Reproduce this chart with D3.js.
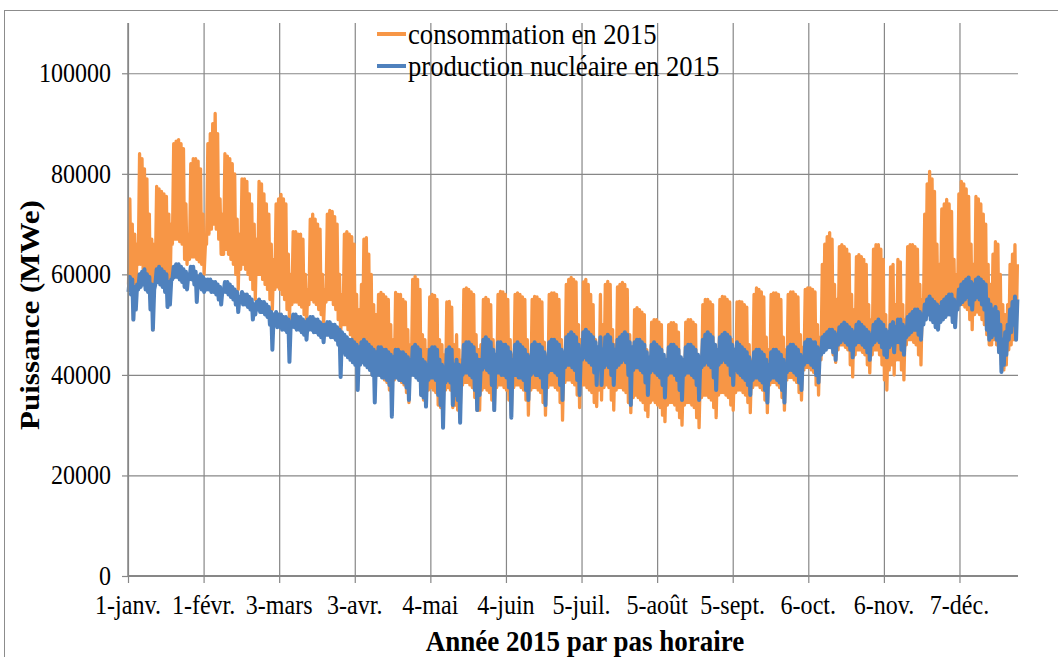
<!DOCTYPE html>
<html>
<head>
<meta charset="utf-8">
<script src="https://cdn.jsdelivr.net/npm/d3@7"></script>
<style>
html,body{margin:0;padding:0;background:#fff;}
svg{display:block;}
</style>
</head>
<body>
<svg id="chart" width="1058" height="657"></svg>
<script>
// ---------- DATA (MWe) ----------
const xTickLabels = ["1-janv.","1-févr.","3-mars","3-avr.","4-mai","4-juin","5-juil.","5-août","5-sept.","6-oct.","6-nov.","7-déc."];
const yTickValues = [0,20000,40000,60000,80000,100000];
const seriesNames = ["consommation en 2015","production nucléaire en 2015"];

// daily maximum / minimum of consumption (one value per day, 1 Jan -> 31 Dec)
const consMax = [
75000,70000,68000,66000,
84000,83000,81000,79000,72000,67000,66000,
77500,77000,76500,76000,75500,72000,70000,
86000,86500,86800,86000,85000,74000,68000,
82000,83000,83000,82500,81000,72000,66000,
86000,88000,90000,92000,88000,75000,72000,
84000,83500,83000,82000,80000,71000,68000,
79000,79000,78500,76000,74000,70000,67000,
78500,78000,76000,74000,72000,66000,63000,
74000,75000,75900,75000,74000,64000,60000,
68500,68500,68000,68000,67000,60000,57000,
71000,72000,71000,70000,69000,60000,57000,
72000,72700,72500,71500,70000,60000,56000,
68000,68500,68000,67500,66000,56000,53000,
58000,67000,67300,64000,60000,54000,52000,
56000,56400,56000,55500,55000,50000,47000,
56400,56000,56000,55000,54500,49000,46000,
59000,59600,59000,57000,48000,47000,45000,
55500,56000,55800,55000,47000,46000,44000,
54500,54600,53500,46000,48000,45000,43000,
57000,57300,57000,56500,56000,48000,45000,
46000,55000,55400,55000,54000,47000,44000,
56000,56600,56500,56000,55000,47000,44000,
56000,56300,56000,55500,55000,47000,44000,
55000,55600,55500,55000,54500,46500,44000,
56000,56300,56300,56000,55000,47000,44000,
58000,59000,59400,59000,58500,50000,47000,
58500,59000,58000,56000,54000,47000,45000,
56000,50000,58000,58600,58000,49000,46000,
57500,58000,58400,58000,57000,48000,45000,
53000,53400,53000,52500,52000,45000,42000,
50500,51000,51000,50500,50000,43500,41000,
50000,50400,50400,50000,48500,42000,40500,
50500,51000,51000,50500,50000,43000,41000,
54000,55000,55000,54500,54000,46000,43000,
55000,55600,55500,55000,54500,47000,44000,
54500,54600,54500,54000,53500,46000,43000,
56000,57300,57000,56500,55500,47500,45000,
56000,56300,56300,56000,55000,47500,45000,
56000,56500,56500,56000,55500,48000,45500,
57000,57300,57300,57000,56500,50000,47500,
62000,66000,67500,68300,67000,58000,55000,
65500,65900,65500,65000,64000,56000,53000,
63500,63900,63500,63000,62000,54000,51000,
65000,65900,65900,65000,63000,52000,48000,
61500,62000,54000,63000,62500,54000,51000,
65500,65900,65900,65500,65000,58000,55000,
72000,78000,80500,79000,76500,66000,62000,
73000,74000,74900,74000,72500,63000,60000,
76000,78500,78000,77000,75500,66000,62000,
75500,75000,74000,72000,70000,62000,58000,
64000,66500,66000,60000,54000,52000,54000,
62000,64000,65900,62000
];
const consMin = [
58000,59000,51000,55000,
62000,62000,61000,60000,58000,55000,49000,
60000,61000,61000,60500,60000,58000,56000,
66000,67000,67000,66500,66000,63000,62000,
63000,63500,63500,63000,62500,62000,60000,
66000,68000,69000,70000,69000,67000,64000,
64000,65000,64000,63000,62000,60000,57000,
61000,62000,61000,60000,59000,57000,55000,
60000,60000,59000,58000,57000,55000,53000,
57000,57500,57000,56000,55000,53000,51000,
54000,54500,54500,54000,53500,52000,50000,
54000,55000,54500,54000,53000,52000,50000,
54500,55000,55000,54000,53000,51000,48000,
50000,50000,49000,48000,47000,45000,42000,
43000,46000,45000,44000,42000,40000,38000,
40000,40000,39500,39000,38500,37000,35000,
39000,39500,39000,38500,38000,36500,34500,
40000,40500,40000,39000,36000,35000,34000,
37000,37500,37000,36500,34000,33500,32000,
37000,37500,37000,33500,34000,33000,32000,
38000,38500,38500,38000,37500,35500,33000,
33000,37000,37500,37000,36500,35000,33000,
37500,38000,38000,37500,37000,35000,32000,
37500,38000,38000,37500,37000,35000,32000,
37000,37500,37500,37000,36500,34500,32000,
37500,38000,38000,37500,37000,34500,31000,
38500,39000,39000,38500,38000,36000,33500,
38000,38000,37500,37000,36500,34500,33700,
37000,35000,37500,38000,37500,35000,33000,
37000,37500,37500,37000,36500,34500,32500,
35500,36000,35500,35000,34500,33000,31700,
34500,35000,34500,34000,33500,32000,30700,
34000,34500,34500,34000,33000,31500,30000,
34000,34500,34500,34000,33500,31500,29500,
35500,36000,36000,35500,35000,33500,31500,
36000,36500,36500,36000,35500,34000,33000,
36500,37000,37000,36500,36000,34500,32500,
37500,38000,38000,37500,37000,35000,32500,
38000,38500,38500,38000,37500,35500,33000,
39000,39500,39500,39000,38500,36500,35000,
41000,41500,41500,41000,40500,38000,36000,
43000,45000,46000,46500,46000,44000,42500,
45000,46000,46000,45500,45000,42000,39600,
44000,45000,45000,44500,44000,42000,40400,
44000,45000,45000,44000,42000,39000,37000,
41000,42000,40000,43000,43000,41000,39000,
46000,47000,47000,46500,46000,44000,42000,
52000,54000,55600,55000,54000,52000,50000,
53000,54000,54500,54000,53500,52000,50000,
53000,54000,54000,53500,53000,51000,49000,
52000,52500,52000,51000,50000,48000,46000,
46000,47000,46000,44500,42000,41000,42000,
45000,46000,47000,47000
];
// daily maximum / minimum of nuclear production
const prodMax = [
59500,59000,57500,58000,
60000,60500,61000,60000,59500,58000,57000,
61000,61500,61000,60500,60000,58500,59000,
61500,62000,62000,61500,61000,60500,60000,
61500,61500,60500,59500,60000,59500,59000,
59000,59000,58500,58500,58000,57500,57000,
58500,58500,58000,57500,57000,56500,55500,
56500,56000,56000,55500,55000,54000,54500,
55000,54500,54500,54000,53500,52500,52000,
52500,52000,52000,51500,51500,51000,50500,
52000,52000,51500,51500,51000,50500,51000,
51500,51500,51000,51000,50500,50000,50000,
50500,50500,50000,50000,49500,49000,48500,
48000,47500,47000,47000,46500,46000,45500,
46500,47000,46500,46000,45500,45000,44500,
45500,45500,45000,45000,44500,44000,43500,
45000,45000,44500,44500,44000,43500,43000,
45500,46000,45500,45000,43000,42500,42000,
45000,45500,45500,45000,43000,42000,41500,
45000,45500,45000,42000,43000,42000,41500,
46000,46500,46500,46000,45500,44000,43000,
43000,47000,47500,47000,46500,45000,44000,
46500,46500,46000,46000,45500,44500,43000,
46000,46500,46000,45500,45000,44000,43500,
46000,46500,46000,46000,45500,44500,43500,
46500,47000,47000,46500,46000,45000,44500,
47500,48000,48500,48000,47500,46000,45000,
48500,49000,48500,48000,47500,46500,45500,
47500,45000,47500,48000,47500,46000,45000,
47000,47500,48000,48500,48000,46500,45500,
46500,47000,47000,46500,46000,44500,43500,
46000,46500,46000,45500,45000,44000,43000,
45500,46000,46000,45500,45000,43500,43000,
45500,46000,46000,45500,45000,44000,43500,
47000,48000,48500,48000,47500,46000,45000,
47500,48000,48400,48000,47500,46000,45000,
46500,46000,45500,45000,44500,43500,42500,
44500,45000,45000,44500,44000,43000,42000,
44500,45000,45000,44500,44000,43000,42000,
45500,46000,46000,45500,45000,44000,43500,
46500,47000,47000,46500,46500,45500,45000,
47500,48000,48500,49000,49000,48500,48000,
49500,50000,50400,50000,49500,49000,48500,
50000,50500,50000,49500,49000,48500,48000,
50000,50500,51000,50500,50000,49000,48500,
50000,50500,49500,51000,51000,50000,49500,
51500,52000,52500,53000,53000,52500,52000,
54000,55000,55600,55000,54500,54000,53500,
54500,55000,55500,56000,56000,55000,54500,
57000,58000,58500,59000,59400,58500,58000,
59000,59400,59000,58500,58000,55000,54000,
53000,53500,52500,50000,47000,48500,50000,
53000,54500,55600,55000
];
const prodMin = [
56500,56000,51000,53000,
57000,57500,58000,57000,56500,53000,49000,
58000,58500,58000,57500,56500,53500,54000,
59000,59500,59500,59000,58500,57500,57000,
59000,59000,58000,54500,57500,57000,56500,
57000,57000,56500,56500,56000,55000,54000,
56500,56500,56000,55500,55000,54000,52500,
54500,54000,54000,53500,53000,51000,52000,
53000,52500,52500,52000,51500,50000,45000,
50000,49500,49500,49000,49000,48500,42600,
49500,49500,49000,49000,48500,48000,47000,
49000,49000,48500,48500,48000,47500,46500,
48000,48000,47500,47500,47000,46000,39600,
44500,44000,43500,43000,42500,42000,37000,
42000,42500,42000,41500,41000,40000,34500,
40000,40000,39500,39500,39000,38000,31700,
39500,39500,39000,39000,38500,37500,35000,
40000,40000,39500,39000,36000,35500,33700,
39000,39500,39500,39000,36000,34000,29500,
38500,39000,38500,34000,36000,35000,30500,
40000,40500,40500,40000,39500,37000,33000,
36000,41000,41500,41000,40500,38000,33000,
40500,40500,40000,40000,39500,37500,31500,
40000,40000,39500,39500,39000,37000,35000,
40000,40500,40000,40000,39500,37500,34000,
40500,41000,41000,40500,40000,38000,35000,
41500,42000,42000,41500,41000,39000,36000,
43000,43500,43000,42500,42000,40500,38000,
41500,38000,41500,42000,41500,40000,38000,
41500,42000,42500,43000,42500,40000,34000,
41000,41500,41500,41000,40500,38500,36000,
40500,41000,40500,40000,39500,38000,35500,
40000,40500,40500,40000,39000,37000,35000,
40000,40500,40500,40000,39500,38000,35000,
41500,42000,42500,42000,41500,39500,37000,
42000,42500,43000,42500,42000,40000,38000,
41000,40500,40000,39500,39000,38000,36000,
39000,39500,39500,39000,38500,37000,34500,
39000,39500,39500,39000,38500,37000,34500,
40500,41000,41000,40500,40000,38500,37000,
42000,42500,42500,42000,41500,40000,38500,
44000,44500,45000,45500,45500,44500,43000,
46000,46500,47000,46500,46000,45000,43500,
46000,46500,46500,46000,45500,44500,43000,
46000,46500,47000,46500,45500,44000,43500,
45500,46000,44500,46500,46500,45000,44000,
47500,48000,48500,49000,49000,48000,47000,
50000,51000,52000,51000,50500,49500,49000,
50500,51000,51500,52000,52000,50500,49500,
53000,54000,54500,55000,55500,54000,53000,
55000,55500,55000,54000,53000,49000,47000,
47500,48000,47000,44500,40600,42000,44000,
47000,48500,50000,47000
];

// ---------- LAYOUT ----------
const W = 1058, H = 657;
const plot = {left:128, right:1018, top:23, bottom:576};
const colors = {cons:"#F79646", prod:"#4F81BD", grid:"#878787", text:"#000"};
const HOURS = 8760, TICK_STEP = 744;
const serif = "'Liberation Serif','Times New Roman',Times,serif";

const svg = d3.select("#chart");
svg.append("rect").attr("width",W).attr("height",H).attr("fill","#fff");
// outer chart frame
svg.append("rect").attr("x",4.5).attr("y",10.5).attr("width",1200).attr("height",800)
  .attr("fill","none").attr("stroke","#8c8c8c").attr("stroke-width",1);

const x = d3.scaleLinear().domain([0,HOURS]).range([plot.left,plot.right]);
const y = d3.scaleLinear().domain([0,110000]).range([plot.bottom,plot.top]);
const xTickValues = xTickLabels.map((_,i)=>i*TICK_STEP);

// horizontal gridlines
const gy = svg.append("g")
  .attr("transform",`translate(${plot.left},0)`)
  .call(d3.axisLeft(y).tickValues(yTickValues.filter(v=>v>0))
     .tickSize(-(plot.right-plot.left)).tickFormat(""));
gy.select(".domain").remove();
gy.selectAll("line").attr("stroke",colors.grid).attr("stroke-width",1.2);

// vertical gridlines
const gx = svg.append("g")
  .attr("transform",`translate(0,${plot.bottom})`)
  .call(d3.axisBottom(x).tickValues(xTickValues)
     .tickSize(-(plot.bottom-plot.top)).tickFormat(""));
gx.select(".domain").remove();
gx.selectAll("line").attr("stroke",colors.grid).attr("stroke-width",1.2);

// series: daily minimum (early morning) then daily maximum (evening)
function buildSeries(mins, maxs){
  const pts = [];
  for(let d=0; d<mins.length; d++){
    pts.push([d*24+5, mins[d]]);
    pts.push([d*24+18, maxs[d]]);
  }
  return pts;
}
const line = d3.line().x(d=>x(d[0])).y(d=>y(d[1]));
svg.append("path").datum(buildSeries(consMin,consMax))
  .attr("d",line).attr("fill","none").attr("stroke",colors.cons)
  .attr("stroke-width",3.3).attr("stroke-linejoin","round");
svg.append("path").datum(buildSeries(prodMin,prodMax))
  .attr("d",line).attr("fill","none").attr("stroke",colors.prod)
  .attr("stroke-width",4).attr("stroke-linejoin","round");

// axes
const yAxis = svg.append("g").attr("transform",`translate(${plot.left},0)`)
  .call(d3.axisLeft(y).tickValues(yTickValues).tickSize(6).tickFormat(""));
yAxis.select(".domain").attr("stroke",colors.grid).attr("stroke-width",1.5)
  .attr("d",`M0,${plot.top}V${plot.bottom}`);
yAxis.selectAll("line").attr("stroke",colors.grid).attr("stroke-width",1.2);

const xAxis = svg.append("g").attr("transform",`translate(0,${plot.bottom})`)
  .call(d3.axisBottom(x).tickValues(xTickValues).tickSize(7).tickFormat(""));
xAxis.select(".domain").attr("stroke",colors.grid).attr("stroke-width",2)
  .attr("d",`M${plot.left},0H${plot.right}`);
xAxis.selectAll("line").attr("stroke",colors.grid).attr("stroke-width",1.2);

// tick labels
const fmt = d3.format("d");
svg.append("g").selectAll("text").data(yTickValues).join("text")
  .attr("transform",v=>`translate(111,${y(v)+9}) scale(0.9,1)`)
  .attr("text-anchor","end").attr("font-family",serif).attr("font-size",26.7)
  .attr("fill",colors.text).text(v=>fmt(v));

svg.append("g").selectAll("text").data(xTickLabels).join("text")
  .attr("transform",(t,i)=>`translate(${x(xTickValues[i])},614) scale(0.9,1)`)
  .attr("text-anchor","middle").attr("font-family",serif).attr("font-size",26.7)
  .attr("fill",colors.text).text(t=>t);

// axis titles
svg.append("text").attr("transform","translate(585,651) scale(0.9,1)")
  .attr("text-anchor","middle").attr("font-family",serif).attr("font-size",30)
  .attr("font-weight","bold").attr("fill",colors.text).text("Année 2015 par pas horaire");
svg.append("text").attr("transform","translate(39,315) rotate(-90) scale(1,0.9)")
  .attr("text-anchor","middle").attr("font-family",serif).attr("font-size",31)
  .attr("font-weight","bold").attr("fill",colors.text).text("Puissance (MWe)");

// legend
const legend = svg.append("g");
[[colors.cons,34],[colors.prod,66]].forEach((c,i)=>{
  legend.append("line").attr("x1",377).attr("x2",406).attr("y1",c[1]).attr("y2",c[1])
    .attr("stroke",c[0]).attr("stroke-width",4);
  legend.append("text").attr("transform",`translate(408,${c[1]+10}) scale(0.9,1)`)
    .attr("font-family",serif).attr("font-size",29.6).attr("fill",colors.text)
    .text(seriesNames[i]);
});
</script>
</body>
</html>
